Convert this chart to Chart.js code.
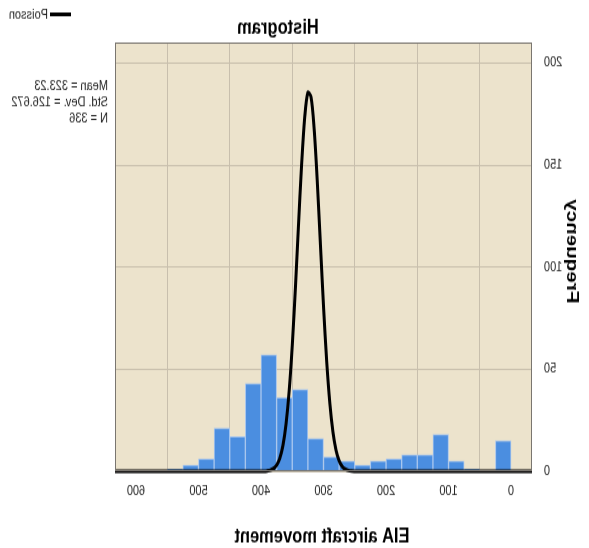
<!DOCTYPE html>
<html>
<head>
<meta charset="utf-8">
<script src="https://cdn.jsdelivr.net/npm/chart.js@4"></script>
<style>
  html { margin: 0; padding: 0; overflow: hidden; }
  body { margin: 0; padding: 0; background: #fff; width: 589px; height: 548px; }
  /* the reference is a mirrored, slightly stretched picture */
  #wrap { width: 589px; height: 438px; transform-origin: 0 0; transform: matrix(-1, 0, 0, 1.25, 589, 0); }
</style>
</head>
<body>
<div id="wrap"><canvas id="grafico" width="589" height="438"></canvas></div>
<script>
// histogram bins (lower edge, width 25) and counts
const binWidth = 25;
const binStart = [0, 25, 50, 75, 100, 125, 150, 175, 200, 225, 250, 275, 300, 325, 350, 375, 400, 425, 450, 475, 500, 525, 550, 575];
const binCounts = [15, 0, 1, 5, 18, 8, 8, 6, 5, 3, 5, 7, 16, 40, 36, 57, 43, 17, 21, 6, 3, 1, 0, 0];

// fitted Poisson curve
const poissonX = [-34, 245, 250, 255, 260, 265, 270, 275, 280, 285, 290, 295, 300, 305, 310, 315, 320, 325, 330, 335, 340, 345, 350, 355, 360, 365, 370, 375, 380, 385, 390, 395, 400, 634];
const poissonY = [0, 0, 0.05, 0.14, 0.4, 1.0, 2.3, 5.1, 10.3, 19.4, 33.8, 54.3, 80.9, 111.5, 142.2, 167.8, 183.4, 185.5, 173.6, 150.4, 120.6, 89.5, 61.5, 39.1, 23.0, 12.5, 6.3, 3.0, 1.3, 0.5, 0.2, 0, 0, 0];

const xTicks = [0, 100, 200, 300, 400, 500, 600];
const yTicks = [0, 50, 100, 150, 200];

const statsLines = ['Mean = 323.23', 'Std. Dev. = 126.672', 'N = 336'];

const fuente = 'Liberation Sans, Arial, sans-serif';

const barras = binStart.map((s, i) => ({ x: s + binWidth / 2, y: binCounts[i] }));
const curva = poissonX.map((x, i) => ({ x: x, y: poissonY[i] }));

const decorado = {
    id: 'decorado',
    beforeDraw(chart) {
        const { ctx, chartArea: a } = chart;
        ctx.save();
        ctx.fillStyle = '#ece3cc';
        ctx.fillRect(a.left, a.top, a.right - a.left, a.bottom - a.top);
        ctx.restore();
    },
    afterDraw(chart) {
        const { ctx, chartArea: a } = chart;
        ctx.save();
        ctx.strokeStyle = '#7a7670';
        ctx.lineWidth = 1;
        ctx.strokeRect(a.left + 0.5, a.top + 0.5, a.right - a.left - 1, a.bottom - a.top - 1);

        ctx.fillStyle = '#000';
        ctx.textBaseline = 'middle';
        ctx.textAlign = 'center';
        ctx.font = 'bold 16.5px ' + fuente;
        ctx.fillText('Histogram', 311, 22);
        ctx.fillText('EIA aircraft movement', 267, 429);

        ctx.save();
        ctx.translate(17, 201);
        ctx.rotate(-Math.PI / 2);
        ctx.fillText('Frequency', 0, 0);
        ctx.restore();

        // legend
        ctx.strokeStyle = '#000';
        ctx.lineWidth = 3;
        ctx.beginPath();
        ctx.moveTo(518, 11.5);
        ctx.lineTo(539, 11.5);
        ctx.stroke();
        ctx.textAlign = 'left';
        ctx.fillStyle = '#222';
        ctx.font = '11px ' + fuente;
        ctx.fillText('Poisson', 541, 11.5);

        // stats box
        const ys = [69, 82, 94.5];
        statsLines.forEach((t, i) => ctx.fillText(t, 481, ys[i]));
        ctx.restore();
    }
};

new Chart(document.getElementById('grafico').getContext('2d'), {
    type: 'bar',
    data: {
        datasets: [{
            type: 'line',
            label: 'Poisson',
            data: curva,
            borderColor: '#000',
            borderWidth: 3,
            pointRadius: 0,
            tension: 0.3,
            fill: false,
            clip: { left: 0, right: 0, top: 0, bottom: 5 },
            order: 0
        }, {
            type: 'bar',
            label: 'Frequency',
            data: barras,
            backgroundColor: '#4b8ee0',
            borderColor: '#a8c6ee',
            borderWidth: 1,
            barPercentage: 1,
            categoryPercentage: 1,
            order: 1
        }]
    },
    options: {
        animation: false,
        responsive: false,
        layout: { padding: { left: 0, right: 115, top: 34, bottom: 0 } },
        scales: {
            x: {
                type: 'linear',
                min: -33.5,
                max: 633.5,
                offset: false,
                afterFit: s => { s.height = 61; },
                afterBuildTicks: s => { s.ticks = xTicks.map(v => ({ value: v })); },
                grid: { color: '#c8bfad', lineWidth: 1, drawTicks: false },
                border: { display: false },
                ticks: { padding: 9, color: '#222', font: { family: fuente, size: 11 }, maxRotation: 0 }
            },
            y: {
                min: 0,
                max: 210,
                afterFit: s => { s.width = 57; },
                afterBuildTicks: s => { s.ticks = yTicks.map(v => ({ value: v })); },
                grid: { color: '#c8bfad', lineWidth: 1, drawTicks: false },
                border: { display: false },
                ticks: { padding: 12, color: '#222', font: { family: fuente, size: 11 } }
            }
        },
        plugins: {
            legend: { display: false },
            title: { display: false },
            tooltip: { enabled: false }
        }
    },
    plugins: [decorado]
});
</script>
</body>
</html>
